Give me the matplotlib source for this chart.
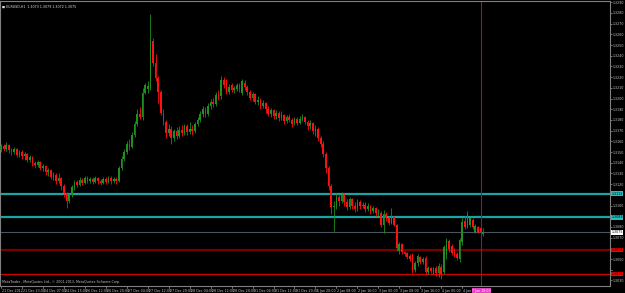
import numpy as np
import matplotlib
matplotlib.use('Agg')
import matplotlib.pyplot as plt
from matplotlib.transforms import blended_transform_factory

# ── DATA: EURUSD H1 candles, pips above 1.3000 ───────────────────────────────
open_pips = [
    152, 156, 153, 157, 152, 150, 153, 147, 150, 146,
    148, 143, 145, 140, 138, 141, 135, 137, 131, 133,
    127, 129, 123, 126, 118, 112, 104, 110, 117, 122,
    119, 124, 121, 126, 123, 125, 122, 126, 123, 121,
    125, 122, 126, 123, 125, 123, 135, 144, 150, 158,
    155, 166, 176, 186, 183, 205, 209, 210, 254, 233,
    219, 206, 187, 178, 168, 172, 163, 170, 165, 171,
    168, 174, 169, 172, 170, 176, 180, 186, 190, 186,
    193, 197, 195, 203, 202, 217, 217, 206, 213, 208,
    209, 213, 205, 215, 211, 206, 201, 204, 197, 199,
    193, 196, 190, 186, 189, 184, 187, 182, 185, 179,
    183, 180, 176, 181, 177, 181, 183, 178, 174, 177,
    170, 172, 163, 158, 148, 135, 118, 99, 100, 108,
    104, 110, 103, 99, 106, 100, 97, 103, 100, 101,
    97, 100, 95, 98, 93, 93, 82, 92, 88, 84,
    89, 82, 58, 64, 57, 56, 53, 54, 40, 46,
    52, 47, 51, 38, 42, 38, 42, 37, 43, 38,
    55, 67, 62, 58, 55, 50, 66, 86, 80, 82,
    87, 75, 80, 79, 73,
]
high_pips = [
    158, 158, 159, 158, 154, 155, 154, 152, 152, 150,
    149, 147, 146, 142, 143, 142, 139, 138, 135, 134,
    131, 130, 130, 127, 120, 113, 112, 119, 124, 124,
    127, 126, 128, 128, 127, 127, 128, 127, 125, 127,
    127, 128, 128, 127, 127, 137, 146, 153, 160, 162,
    169, 179, 190, 192, 210, 215, 216, 279, 257, 242,
    221, 208, 190, 180, 176, 174, 172, 173, 174, 175,
    176, 176, 178, 175, 178, 183, 188, 193, 192, 196,
    200, 201, 206, 208, 221, 220, 218, 214, 215, 212,
    215, 215, 218, 217, 213, 208, 206, 205, 202, 201,
    199, 197, 193, 191, 190, 189, 188, 188, 186, 185,
    186, 182, 183, 183, 184, 186, 184, 180, 180, 178,
    175, 173, 165, 160, 150, 137, 120, 104, 112, 110,
    113, 112, 106, 108, 107, 103, 106, 105, 103, 103,
    102, 101, 100, 99, 97, 95, 96, 94, 90, 98,
    90, 83, 66, 65, 58, 57, 55, 56, 48, 55,
    53, 52, 53, 44, 43, 43, 44, 46, 45, 63,
    70, 69, 64, 60, 57, 70, 88, 90, 95, 89,
    88, 83, 81, 80, 79,
]
low_pips = [
    150, 151, 151, 149, 147, 148, 145, 145, 144, 143,
    141, 141, 137, 135, 136, 133, 132, 129, 128, 125,
    124, 120, 121, 115, 108, 98, 102, 108, 115, 117,
    118, 119, 120, 121, 121, 120, 121, 120, 119, 120,
    120, 121, 120, 121, 120, 122, 133, 142, 148, 152,
    154, 164, 174, 181, 180, 204, 205, 208, 230, 216,
    196, 185, 175, 163, 165, 158, 160, 162, 163, 165,
    166, 166, 167, 166, 168, 174, 178, 183, 183, 184,
    190, 192, 193, 199, 200, 210, 204, 204, 206, 205,
    207, 206, 203, 208, 203, 199, 198, 195, 194, 190,
    191, 187, 184, 183, 181, 181, 179, 180, 176, 177,
    178, 173, 175, 175, 176, 179, 176, 171, 172, 167,
    165, 160, 155, 145, 130, 115, 92, 76, 97, 100,
    102, 100, 96, 97, 97, 94, 95, 97, 98, 94,
    95, 92, 93, 90, 90, 80, 74, 86, 82, 83,
    81, 58, 55, 55, 53, 50, 48, 37, 38, 44,
    45, 45, 36, 36, 37, 36, 34, 33, 31, 36,
    50, 57, 54, 52, 49, 47, 63, 78, 79, 80,
    78, 74, 74, 74, 72,
]
close_pips = [
    156, 153, 157, 152, 150, 153, 147, 150, 146, 148,
    143, 145, 140, 138, 141, 135, 137, 131, 133, 127,
    129, 123, 126, 118, 112, 104, 110, 117, 122, 119,
    124, 121, 126, 123, 125, 122, 126, 123, 121, 125,
    122, 126, 123, 125, 123, 135, 144, 150, 158, 155,
    166, 176, 186, 183, 205, 213, 212, 253, 233, 219,
    206, 187, 178, 168, 172, 163, 170, 165, 171, 168,
    174, 169, 172, 170, 176, 180, 186, 190, 186, 193,
    197, 195, 203, 201, 217, 213, 206, 211, 208, 210,
    213, 209, 216, 211, 206, 201, 204, 197, 199, 193,
    196, 190, 186, 189, 184, 187, 182, 185, 179, 183,
    180, 176, 181, 177, 181, 183, 178, 174, 177, 170,
    172, 163, 158, 148, 135, 118, 99, 100, 108, 104,
    110, 103, 99, 106, 100, 97, 103, 100, 101, 97,
    100, 95, 98, 93, 95, 82, 92, 88, 84, 90,
    82, 60, 64, 57, 55, 52, 50, 39, 46, 53,
    47, 50, 38, 42, 39, 42, 37, 44, 36, 61,
    67, 59, 56, 54, 51, 68, 85, 80, 92, 88,
    80, 81, 75, 75, 75,
]

price_ticks = [1.3290 - 0.0010 * k for k in range(27)]
time_labels = ['21 Dec 2012', '21 Dec 23:00', '24 Dec 07:00', '24 Dec 15:00',
               '26 Dec 12:00', '26 Dec 20:00', '27 Dec 04:00', '27 Dec 12:00',
               '27 Dec 20:00', '28 Dec 04:00', '28 Dec 12:00', '28 Dec 20:00',
               '31 Dec 04:00', '31 Dec 12:00', '31 Dec 20:00', '1 Jan 20:00',
               '2 Jan 08:00', '2 Jan 16:00', '3 Jan 00:00', '3 Jan 08:00',
               '3 Jan 16:00', '4 Jan 00:00', '4 Jan']
line_levels = [1.3111, 1.3089, 1.3075, 1.30585, 1.3036]
line_colors = ['#1aa5a5', '#1aa5a5', '#4a5560', '#7a0000', '#d00000']
line_widths = [1.6, 1.6, 0.8, 1.6, 0.9]
line_label_bg = ['#20c0c0', '#20c0c0', '#ffffff', '#ff0000', '#ff0000']
vline_bar = 183.3
vline_label = '7 Jan 10:00'
title_text = 'EURUSD,H1  1.3073 1.3079 1.3072 1.3075'
copyright_text = 'MetaTrader - MetaQuotes Ltd., \u00a9 2001-2013, MetaQuotes Software Corp.'

# ── BUILD OHLC ───────────────────────────────────────────────────────────────
o = 1.3 + np.array(open_pips) / 10000.0
hi = 1.3 + np.array(high_pips) / 10000.0
lo = 1.3 + np.array(low_pips) / 10000.0
c = 1.3 + np.array(close_pips) / 10000.0
x = np.arange(len(c))

W, H = 625, 293
FS = 2.3
fig = plt.figure(figsize=(W / 100, H / 100), dpi=100, facecolor='black')
ax = fig.add_axes([0 / W, (H - 286) / H, 610 / W, 285 / H])
ax.set_facecolor('black')

ymax = 1.3290 + 1.3 * 0.0010 / 10.7
ymin = 1.3290 - 283.7 * 0.0010 / 10.7
ax.set_ylim(ymin, ymax)
ax.set_xlim(-0.38, 232.4)

for lvl, col, lw in zip(line_levels, line_colors, line_widths):
    ax.axhline(lvl, color=col, lw=lw, zorder=1)
ax.axvline(vline_bar, color='#7a2050', lw=0.8, zorder=1)

up = c >= o
col = np.where(up, '#1f8f1f', '#ff1010')
ax.vlines(x, lo, hi, colors=col, lw=0.6, zorder=3)
body_h = np.maximum(np.abs(c - o), 0.00003)
ax.bar(x, body_h, bottom=np.minimum(o, c), width=0.64, color=col, lw=0, zorder=4)

# price axis (labels hidden where a line label sits on top)
ax.yaxis.tick_right()
ax.set_yticks(price_ticks)
ax.set_yticklabels(['' if min(abs(p - l) for l in line_levels) < 0.00045 else f'{p:.4f}'
                    for p in price_ticks])
ax.tick_params(axis='y', colors='#a0a0a0', labelsize=FS, length=1.5, width=0.5, pad=0.5,
               labelcolor='#c8c8c8')
ax.set_xticks([])
for s in ax.spines.values():
    s.set_color('#808080')
    s.set_linewidth(0.8)

trans_r = blended_transform_factory(ax.transAxes, ax.transData)
for lvl, bg in zip(line_levels, line_label_bg):
    ax.text(1.0025, lvl, f'{lvl:.4f}', transform=trans_r, fontsize=FS, color='black',
            va='center', ha='left', zorder=10,
            bbox=dict(boxstyle='square,pad=0.12', fc=bg, ec='none'))

# time axis labels
trans_b = blended_transform_factory(ax.transData, ax.transAxes)
for k, lab in enumerate(time_labels):
    xb = 8 * k
    ax.plot([xb, xb], [0, -0.008], transform=trans_b, color='#a0a0a0', lw=0.5, clip_on=False)
    ax.text(xb + 0.4, -0.01, lab, transform=trans_b, fontsize=FS, color='#c8c8c8',
            ha='left', va='top')
ax.text(vline_bar, -0.01, vline_label, transform=trans_b, fontsize=FS, color='#ffffff',
        ha='center', va='top', zorder=10,
        bbox=dict(boxstyle='square,pad=0.12', fc='#e040c0', ec='none'))

ax.text(0.004, 0.988, '\u25a0 ' + title_text, transform=ax.transAxes, fontsize=FS,
        color='#e0e0e0', ha='left', va='top')
ax.text(0.004, 0.006, copyright_text, transform=ax.transAxes, fontsize=FS,
        color='#c0c0c0', ha='left', va='bottom')

fig.savefig('out.png', dpi=100, facecolor='black')
